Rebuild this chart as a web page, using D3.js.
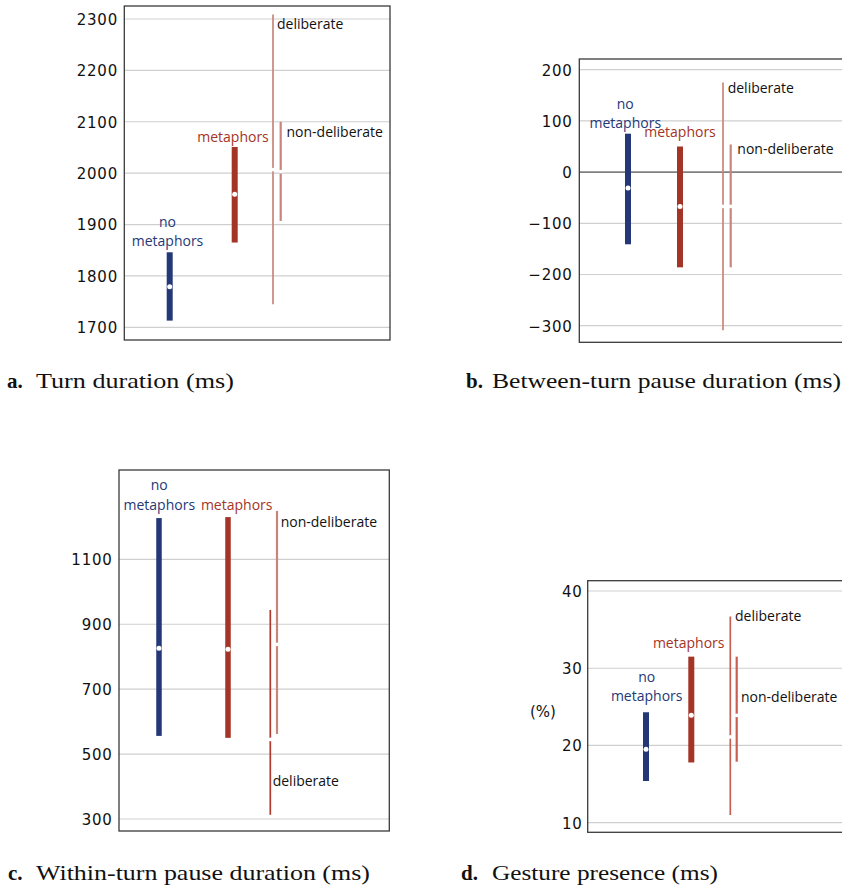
<!DOCTYPE html>
<html><head><meta charset="utf-8">
<script src="https://cdn.jsdelivr.net/npm/d3@7"></script>
<style>body{margin:0;background:#fff}svg{display:block}</style>
</head><body>
<svg id="c" width="842" height="886"></svg>
<script>
// ---- data ----
const groups = ["no metaphors", "metaphors", "deliberate", "non-deliberate"];

const turnLow  = [1713, 1865, 1745, 1907];
const turnMean = [1779, 1959, 2007, 2003];
const turnHigh = [1846, 2051, 2309, 2100];
const turnTicks = [1700, 1800, 1900, 2000, 2100, 2200, 2300];

const betweenLow  = [-141, -186, -309, -186];
const betweenMean = [-31, -67, -67, -67];
const betweenHigh = [75, 50, 175, 54];
const betweenTicks = [-300, -200, -100, 0, 100, 200];

const withinLow  = [556, 550, 313, 562];
const withinMean = [826, 823, 545, 838];
const withinHigh = [1227, 1230, 944, 1249];
const withinTicks = [300, 500, 700, 900, 1100];

const gestureLow  = [15.4, 17.8, 11.0, 17.9];
const gestureMean = [19.5, 23.9, 21.1, 23.9];
const gestureHigh = [24.3, 31.5, 36.7, 31.5];
const gestureTicks = [10, 20, 30, 40];

const captionLetters = ["a.", "b.", "c.", "d."];
const captionTexts = ["Turn duration (ms)", "Between-turn pause duration (ms)",
                      "Within-turn pause duration (ms)", "Gesture presence (ms)"];

// ---- layout (positions / styles) ----
const BLUE = "#243878", RED = "#a33426", SALMON = "#c8857c", DEEP = "#b13a2f", MID = "#c95d52";
const panels = [
  { low: turnLow, mean: turnMean, high: turnHigh, ticks: turnTicks,
    frame: [124.3, 6, 390, 340], yr: [327.3, 19], xs: [169.7, 234.7, 273, 280.7], tickX: 118,
    lineColors: [SALMON, SALMON], barW: 6,
    labels: [[167.5, 226.5, "no", BLUE, "middle"], [167.5, 245.5, "metaphors", BLUE, "middle"],
             [233, 141.5, "metaphors", RED, "middle"], [277, 29, "deliberate", "#111", "start"],
             [286.5, 136.5, "non-deliberate", "#111", "start"]],
    cap: [7, 36, 388, 198] },
  { low: betweenLow, mean: betweenMean, high: betweenHigh, ticks: betweenTicks,
    frame: [579.3, 59, 846, 342.3], yr: [325.7, 69.7], xs: [628, 680, 723, 730.7], tickX: 572.7,
    lineColors: [SALMON, SALMON], barW: 6, zero: true,
    labels: [[625.3, 109.3, "no", BLUE, "middle"], [625.3, 128.3, "metaphors", BLUE, "middle"],
             [680, 136.5, "metaphors", RED, "middle"], [727.7, 93.3, "deliberate", "#111", "start"],
             [737.3, 154.3, "non-deliberate", "#111", "start"]],
    cap: [466, 492, 388, 349] },
  { low: withinLow, mean: withinMean, high: withinHigh, ticks: withinTicks,
    frame: [119, 470, 389.3, 831], yr: [819, 559.3], xs: [159, 228, 270.3, 277], tickX: 112.7,
    lineColors: [DEEP, SALMON], barW: 5.5,
    labels: [[159.3, 490, "no", BLUE, "middle"], [159.3, 510, "metaphors", BLUE, "middle"],
             [236.7, 510, "metaphors", RED, "middle"], [272.7, 786, "deliberate", "#111", "start"],
             [280.7, 526.7, "non-deliberate", "#111", "start"]],
    cap: [8, 36, 880, 334] },
  { low: gestureLow, mean: gestureMean, high: gestureHigh, ticks: gestureTicks,
    frame: [587.7, 580.7, 846, 832.3], yr: [822.7, 591], xs: [646, 691.3, 730.3, 736.7], tickX: 582.7,
    lineColors: [MID, MID], barW: 6, unit: "(%)",
    labels: [[646.7, 681.7, "no", BLUE, "middle"], [646.7, 700.7, "metaphors", BLUE, "middle"],
             [688.7, 647.7, "metaphors", RED, "middle"], [735, 620.7, "deliberate", "#111", "start"],
             [741, 701.7, "non-deliberate", "#111", "start"]],
    cap: [461, 492, 880, 226] }
];

const svg = d3.select("#c");
const fmt = d3.format("");

panels.forEach((p, pi) => {
  const g = svg.append("g");
  const [fx0, fy0, fx1, fy1] = p.frame;
  const y = d3.scaleLinear().domain(d3.extent(p.ticks)).range(p.yr);
  const x = d3.scaleOrdinal().domain(groups).range(p.xs);

  // gridlines
  g.selectAll("line.grid").data(p.ticks).join("line")
    .attr("x1", fx0).attr("x2", fx1)
    .attr("y1", d => y(d)).attr("y2", d => y(d))
    .attr("stroke", d => (p.zero && d === 0) ? "#808080" : "#cfcfcf")
    .attr("stroke-width", d => (p.zero && d === 0) ? 1.6 : 1.2);

  // tick labels via axis
  const axis = d3.axisLeft(y).tickValues(p.ticks).tickSize(0).tickPadding(0).tickFormat(fmt);
  const ag = g.append("g").attr("transform", `translate(${p.tickX},0)`).call(axis);
  ag.select(".domain").remove();
  ag.selectAll("text").attr("font-family", "DejaVu Sans").attr("font-size", 15)
    .attr("letter-spacing", 0.8).attr("fill", "#111").attr("dy", "0.36em");

  // frame
  g.append("rect").attr("x", fx0).attr("y", fy0).attr("width", fx1 - fx0).attr("height", fy1 - fy0)
    .attr("fill", "none").attr("stroke", "#3a3a3a").attr("stroke-width", 1.3);

  const rows = groups.map((k, i) => ({ k, i, lo: p.low[i], mu: p.mean[i], hi: p.high[i] }));

  // thick bars (no metaphors, metaphors)
  g.selectAll("rect.bar").data(rows.slice(0, 2)).join("rect")
    .attr("x", d => x(d.k) - p.barW / 2).attr("width", p.barW)
    .attr("y", d => y(d.hi)).attr("height", d => y(d.lo) - y(d.hi))
    .attr("fill", d => d.i === 0 ? BLUE : RED);

  // thin lines (deliberate, non-deliberate)
  g.selectAll("line.thin").data(rows.slice(2)).join("line")
    .attr("x1", d => x(d.k)).attr("x2", d => x(d.k))
    .attr("y1", d => y(d.hi)).attr("y2", d => y(d.lo))
    .attr("stroke", d => p.lineColors[d.i - 2])
    .attr("stroke-width", d => d.i === 2 ? 1.7 : 2.2);

  // mean markers
  g.selectAll("circle.mean").data(rows).join("circle")
    .attr("cx", d => x(d.k)).attr("cy", d => y(d.mu))
    .attr("r", d => d.i < 2 ? 2.5 : 1.9).attr("fill", "#fff");

  // group labels
  g.selectAll("text.lab").data(p.labels).join("text")
    .attr("x", d => d[0]).attr("y", d => d[1]).text(d => d[2])
    .attr("fill", d => d[3]).attr("text-anchor", d => d[4])
    .attr("font-family", "Open Sans").attr("font-size", 14);

  if (p.unit) {
    g.append("text").attr("x", 543).attr("y", 712).attr("dy", "0.36em")
      .attr("text-anchor", "middle").attr("font-family", "DejaVu Sans")
      .attr("font-size", 15).attr("fill", "#111").text(p.unit);
  }

  // caption
  g.append("text").attr("x", p.cap[0]).attr("y", p.cap[2])
    .attr("font-family", "Liberation Serif").attr("font-size", 21).attr("font-weight", "bold")
    .attr("fill", "#111").text(captionLetters[pi]);
  const ct = g.append("text").attr("x", 0).attr("y", 0)
    .attr("font-family", "Liberation Serif").attr("font-size", 22).attr("fill", "#111")
    .text(captionTexts[pi]);
  const w = ct.node().getComputedTextLength() || p.cap[3];
  ct.attr("transform", `translate(${p.cap[1]},${p.cap[2]}) scale(${p.cap[3] / w},1)`);
});
</script>
</body></html>
